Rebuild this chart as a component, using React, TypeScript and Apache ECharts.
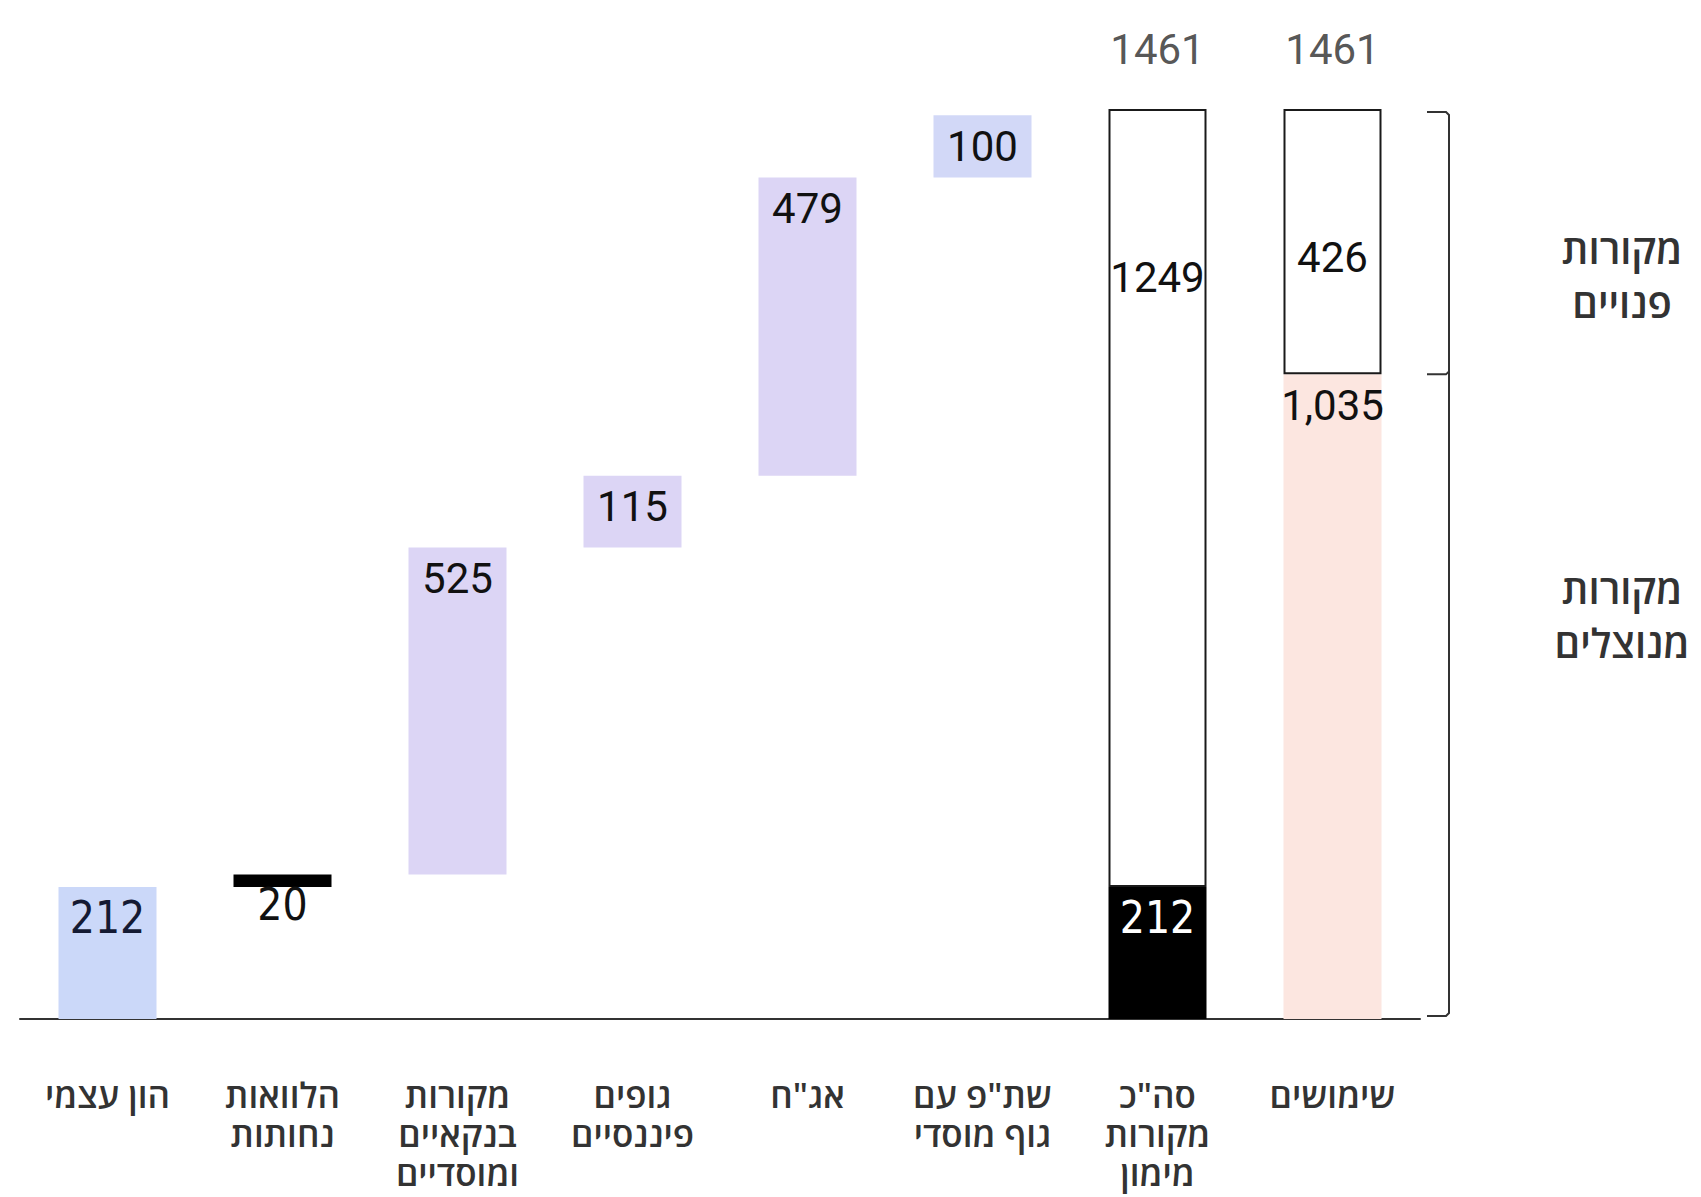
import React, { useEffect, useRef } from 'react';
import * as echarts from 'echarts';

// ---- data ----
const categories = [
  'הון עצמי',
  'הלוואות\nנחותות',
  'מקורות\nבנקאיים\nומוסדיים',
  'גופים\nפיננסיים',
  'אג"ח',
  'שת"פ עם\nגוף מוסדי',
  'סה"כ\nמקורות\nמימון',
  'שימושים',
];
const sourceValues = [212, 20, 525, 115, 479, 100];
const fundingTotalParts = [212, 1249]; // equity, other sources
const usesParts = [1035, 426]; // utilized, available
const totalLabels = [1461, 1461];
const sideLabels = ['מקורות\nפנויים', 'מקורות\nמנוצלים'];

// ---- styles ----
const sourceColors = ['#cbd8f9', '#000000', '#dcd5f5', '#dcd5f5', '#dcd5f5', '#d2d8f7'];
const NUM_FONT = 'Roboto, "Noto Sans", sans-serif';
const NARROW_FONT = '"Liberation Sans Narrow", "DejaVu Sans Condensed", "Arial Narrow", Roboto, sans-serif';
const HEB_FONT = '"Open Sans", "DejaVu Sans", "Noto Sans", sans-serif';

export default function App() {
  const ref = useRef<HTMLDivElement>(null);

  useEffect(() => {
    if (!ref.current) return;
    const chart = echarts.init(ref.current, undefined, { renderer: 'svg' });

    const nSrc = sourceValues.length;
    const empties = (k: number) => Array.from({ length: k }, () => '-' as any);

    const bases: number[] = [];
    let acc = 0;
    sourceValues.forEach((v) => {
      bases.push(acc);
      acc += v;
    });

    const baseData = [...bases, ...empties(categories.length - nSrc)];

    const sourceData = [
      ...sourceValues.map((v, i) => {
        const item: any = { value: v, itemStyle: { color: sourceColors[i] } };
        if (i === 0) {
          item.label = { fontFamily: NARROW_FONT, fontSize: 44, color: '#141a33' };
        }
        if (i === 1) {
          item.label = {
            position: 'bottom',
            distance: -3,
            fontFamily: NARROW_FONT,
            fontSize: 44,
          };
        }
        return item;
      }),
      ...empties(categories.length - nSrc),
    ];

    const bottomTotals = [
      ...empties(nSrc),
      {
        value: fundingTotalParts[0],
        itemStyle: { color: '#000000' },
        label: { color: '#ffffff', fontFamily: NARROW_FONT, fontSize: 44, fontWeight: 500 },
      },
      {
        value: usesParts[0],
        itemStyle: { color: '#fce6e0' },
      },
    ];

    const topTotals = [
      ...empties(nSrc),
      { value: fundingTotalParts[1], label: { position: ['50%', 168] } },
      { value: usesParts[1], label: { position: ['50%', 148] } },
    ];

    const scatterData = [...empties(nSrc), ...totalLabels];

    const numLabel = {
      show: true,
      position: 'insideTop',
      distance: 10,
      color: '#111111',
      fontFamily: NUM_FONT,
      fontSize: 42,
      lineHeight: 42,
    };

    chart.setOption({
      animation: false,
      backgroundColor: '#ffffff',
      grid: { left: 20, right: 281, top: 109, bottom: 178, containLabel: false },
      xAxis: {
        type: 'category',
        data: categories,
        axisLine: { show: true, lineStyle: { color: '#333333', width: 2 } },
        axisTick: { show: false },
        axisLabel: {
          interval: 0,
          margin: 56,
          color: '#333333',
          fontFamily: HEB_FONT,
          fontWeight: 600,
          fontSize: 35,
          lineHeight: 39,
        },
      },
      yAxis: {
        type: 'value',
        min: 0,
        max: 1461,
        show: false,
        splitLine: { show: false },
      },
      series: [
        {
          name: 'base',
          type: 'bar',
          stack: 'all',
          barWidth: 98,
          itemStyle: { color: 'rgba(0,0,0,0)' },
          emphasis: { disabled: true },
          data: baseData,
        },
        {
          name: 'sources',
          type: 'bar',
          stack: 'all',
          barWidth: 98,
          label: numLabel,
          data: sourceData,
        },
        {
          name: 'totalsBottom',
          type: 'bar',
          stack: 'all',
          barWidth: 98,
          label: {
            ...numLabel,
            formatter: (p: any) => Number(p.value).toLocaleString('en-US'),
          },
          data: bottomTotals,
        },
        {
          name: 'totalsTop',
          type: 'bar',
          stack: 'all',
          barWidth: 98,
          itemStyle: { color: '#ffffff', borderColor: '#1a1a1a', borderWidth: 2 },
          label: { ...numLabel, align: 'center', verticalAlign: 'middle' },
          data: topTotals,
        },
        {
          name: 'totalLabels',
          type: 'scatter',
          symbolSize: 1,
          itemStyle: { color: 'rgba(0,0,0,0)' },
          label: {
            show: true,
            position: 'top',
            distance: 38,
            color: '#2a2a2a',
            fontFamily: NUM_FONT,
            fontSize: 42,
            lineHeight: 42,
          },
          data: scatterData,
        },
      ],
    });

    const yTop = chart.convertToPixel({ yAxisIndex: 0 }, totalLabels[1]) as number;
    const yMid = chart.convertToPixel({ yAxisIndex: 0 }, usesParts[0]) as number;
    const yBot = chart.convertToPixel({ yAxisIndex: 0 }, 0) as number;
    const bx = 1449;
    const tx = 1427;
    const stroke = { stroke: '#333333', lineWidth: 2, fill: null };
    const sideStyle = {
      align: 'center',
      verticalAlign: 'middle',
      fill: '#333333',
      fontFamily: HEB_FONT,
      fontWeight: 600,
      fontSize: 40,
      lineHeight: 54,
    };

    chart.setOption({
      graphic: [
        {
          type: 'polyline',
          shape: {
            points: [
              [tx, yTop + 3],
              [bx - 3, yTop + 3],
              [bx, yTop + 6],
              [bx, yBot - 6],
              [bx - 3, yBot - 3],
              [tx, yBot - 3],
            ],
          },
          style: stroke,
        },
        {
          type: 'polyline',
          shape: { points: [[tx, yMid], [bx - 3, yMid], [bx, yMid - 3]] },
          style: stroke,
        },
        {
          type: 'text',
          x: 1622,
          y: 275,
          style: { ...sideStyle, text: sideLabels[0] },
        },
        {
          type: 'text',
          x: 1622,
          y: 615,
          style: { ...sideStyle, text: sideLabels[1] },
        },
      ],
    });

    return () => chart.dispose();
  }, []);

  return (
    <div
      ref={ref}
      style={{ position: 'absolute', left: 0, top: 0, width: 1701, height: 1197 }}
    />
  );
}
